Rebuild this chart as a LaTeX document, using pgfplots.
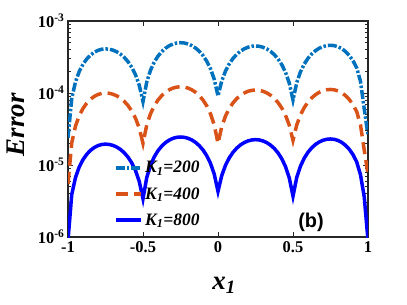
\documentclass[border=0pt]{standalone}
\usepackage{fontspec}
\setmainfont{Liberation Serif}
\newfontfamily\arialb{Liberation Sans}[BoldFont={* Bold}]
\usepackage{pgfplots}
\usepackage{pgfplotstable}
\pgfplotsset{compat=1.18}
\definecolor{mblue}{rgb}{0,0.447,0.741}
\definecolor{morange}{rgb}{0.851,0.325,0.098}
\definecolor{axgray}{rgb}{0.15,0.15,0.15}

\pgfplotstableread{
x y
-1 2.4e-5
-0.975 8.44e-5
-0.95 1.433e-4
-0.925 1.992e-4
-0.9 2.509e-4
-0.875 2.969e-4
-0.85 3.363e-4
-0.825 3.679e-4
-0.8 3.911e-4
-0.775 4.053e-4
-0.75 4.1e-4
-0.725 4.059e-4
-0.7 3.937e-4
-0.675 3.736e-4
-0.65 3.462e-4
-0.625 3.122e-4
-0.6 2.723e-4
-0.575 2.276e-4
-0.55 1.792e-4
-0.525 1.282e-4
-0.5 7.6e-5
-0.475 1.423e-4
-0.45 2.070e-4
-0.425 2.685e-4
-0.4 3.252e-4
-0.375 3.758e-4
-0.35 4.190e-4
-0.325 4.538e-4
-0.3 4.793e-4
-0.275 4.948e-4
-0.25 5.0e-4
-0.225 4.950e-4
-0.2 4.800e-4
-0.175 4.554e-4
-0.15 4.219e-4
-0.125 3.802e-4
-0.1 3.314e-4
-0.075 2.767e-4
-0.05 2.174e-4
-0.025 1.550e-4
0 9.1e-5
0.025 1.471e-4
0.05 2.019e-4
0.075 2.540e-4
0.1 3.020e-4
0.125 3.449e-4
0.15 3.814e-4
0.175 4.109e-4
0.2 4.324e-4
0.225 4.456e-4
0.25 4.5e-4
0.275 4.454e-4
0.3 4.319e-4
0.325 4.097e-4
0.35 3.793e-4
0.375 3.416e-4
0.4 2.975e-4
0.425 2.480e-4
0.45 1.943e-4
0.475 1.379e-4
0.5 8.0e-5
0.525 1.394e-4
0.55 1.974e-4
0.575 2.525e-4
0.6 3.034e-4
0.625 3.487e-4
0.65 3.874e-4
0.675 4.186e-4
0.7 4.414e-4
0.725 4.553e-4
0.75 4.6e-4
0.775 4.547e-4
0.8 4.388e-4
0.825 4.127e-4
0.85 3.771e-4
0.875 3.329e-4
0.9 2.811e-4
0.925 2.230e-4
0.95 1.450e-4
0.975 6.0e-5
1 2.6e-5
}\kA

\pgfplotstableread{
x y
-1 0.55e-5
-0.975 2.028e-5
-0.95 3.470e-5
-0.925 4.840e-5
-0.9 6.105e-5
-0.875 7.232e-5
-0.85 8.195e-5
-0.825 8.970e-5
-0.8 9.538e-5
-0.775 9.884e-5
-0.75 10.0e-5
-0.725 9.902e-5
-0.7 9.609e-5
-0.675 9.128e-5
-0.65 8.472e-5
-0.625 7.657e-5
-0.6 6.702e-5
-0.575 5.632e-5
-0.55 4.472e-5
-0.525 3.251e-5
-0.5 2.0e-5
-0.475 3.595e-5
-0.45 5.152e-5
-0.425 6.631e-5
-0.4 7.996e-5
-0.375 9.212e-5
-0.35 10.252e-5
-0.325 11.088e-5
-0.3 11.701e-5
-0.275 12.075e-5
-0.25 12.2e-5
-0.225 12.075e-5
-0.2 11.701e-5
-0.175 11.088e-5
-0.15 10.252e-5
-0.125 9.212e-5
-0.1 7.996e-5
-0.075 6.631e-5
-0.05 5.152e-5
-0.025 3.595e-5
0 2.0e-5
0.025 3.408e-5
0.05 4.781e-5
0.075 6.086e-5
0.1 7.290e-5
0.125 8.364e-5
0.15 9.281e-5
0.175 10.019e-5
0.2 10.560e-5
0.225 10.889e-5
0.25 11.0e-5
0.275 10.892e-5
0.3 10.570e-5
0.325 10.041e-5
0.35 9.319e-5
0.375 8.422e-5
0.4 7.373e-5
0.425 6.195e-5
0.45 4.919e-5
0.475 3.576e-5
0.5 2.2e-5
0.525 3.608e-5
0.55 4.981e-5
0.575 6.286e-5
0.6 7.490e-5
0.625 8.564e-5
0.65 9.481e-5
0.675 10.219e-5
0.7 10.760e-5
0.725 11.089e-5
0.75 11.2e-5
0.775 11.071e-5
0.8 10.689e-5
0.825 10.061e-5
0.85 9.204e-5
0.875 8.139e-5
0.9 6.893e-5
0.925 5.494e-5
0.95 3.600e-5
0.975 1.600e-5
1 0.75e-5
}\kB

\pgfplotstableread{
x y
-1 0.9e-6
-0.975 3.893e-6
-0.95 6.717e-6
-0.925 9.399e-6
-0.9 11.874e-6
-0.875 14.081e-6
-0.85 15.967e-6
-0.825 17.484e-6
-0.8 18.595e-6
-0.775 19.272e-6
-0.75 19.5e-6
-0.725 19.302e-6
-0.7 18.713e-6
-0.675 17.745e-6
-0.65 16.425e-6
-0.625 14.784e-6
-0.6 12.864e-6
-0.575 10.709e-6
-0.55 8.375e-6
-0.525 5.918e-6
-0.5 3.4e-6
-0.475 6.700e-6
-0.45 9.920e-6
-0.425 12.979e-6
-0.4 15.803e-6
-0.375 18.320e-6
-0.35 20.470e-6
-0.325 22.200e-6
-0.3 23.468e-6
-0.275 24.240e-6
-0.25 24.5e-6
-0.225 24.252e-6
-0.2 23.512e-6
-0.175 22.298e-6
-0.15 20.642e-6
-0.125 18.583e-6
-0.1 16.174e-6
-0.075 13.471e-6
-0.05 10.542e-6
-0.025 7.459e-6
0 4.3e-6
0.025 7.146e-6
0.05 9.924e-6
0.075 12.563e-6
0.1 14.998e-6
0.125 17.169e-6
0.15 19.024e-6
0.175 20.516e-6
0.2 21.610e-6
0.225 22.276e-6
0.25 22.5e-6
0.275 22.269e-6
0.3 21.581e-6
0.325 20.451e-6
0.35 18.909e-6
0.375 16.993e-6
0.4 14.751e-6
0.425 12.235e-6
0.45 9.509e-6
0.475 6.640e-6
0.5 3.7e-6
0.525 6.719e-6
0.55 9.664e-6
0.575 12.462e-6
0.6 15.045e-6
0.625 17.347e-6
0.65 19.314e-6
0.675 20.896e-6
0.7 22.056e-6
0.725 22.763e-6
0.75 23.0e-6
0.775 22.729e-6
0.8 21.924e-6
0.825 20.602e-6
0.85 18.798e-6
0.875 16.556e-6
0.9 13.932e-6
0.925 10.988e-6
0.95 7.3e-6
0.975 3.6e-6
1 0.9e-6
}\kC

\begin{document}
\begin{tikzpicture}
\useasboundingbox (0,0) rectangle (407bp,305bp);
\begin{semilogyaxis}[
  at={(68bp,68bp)}, anchor=south west,
  scale only axis, width=300bp, height=216bp,
  xmin=-1, xmax=1, ymin=1e-6, ymax=1e-3,
  xtick={-1,-0.5,0,0.5,1},
  xticklabels={\textbf{-1},\textbf{-0.5},\textbf{0},\textbf{0.5},\textbf{1}},
  ytick={1e-6,1e-5,1e-4,1e-3},
  yticklabels={\textbf{10\textsuperscript{-6}},\textbf{10\textsuperscript{-5}},\textbf{10\textsuperscript{-4}},\textbf{10\textsuperscript{-3}}},
  tick label style={font=\fontsize{16.5}{19}\selectfont},
  xticklabel style={yshift=-1bp},
  tick align=inside,
  major tick length=5bp, minor tick length=3bp,
  every tick/.style={axgray, line width=0.8pt},
  axis line style={axgray, line width=1.3pt},
  xlabel={\textbf{\textit{x\textsubscript{1}}}},
  ylabel={\textbf{\textit{Error}}},
  label style={font=\fontsize{27}{30}\selectfont},
  xlabel style={at={(axis description cs:0.52,-0.245)}, anchor=base},
  ylabel style={at={(axis description cs:-0.145,0.52)}, anchor=base},
  legend style={draw=none, fill=none, at={(0.15,0.365)}, anchor=north west,
    font=\fontsize{17.5}{19}\selectfont\bfseries\itshape, row sep=9bp,
    inner sep=1pt},
  legend cell align=left,
  legend image code/.code={\draw[#1] (0cm,0cm) -- (0.9cm,0cm);},
  clip=true,
]
\addplot[mblue, line width=3.5bp, dash pattern=on 9bp off 2bp on 2.5bp off 2bp] table[x=x,y=y]{\kA};
\addlegendentry{K\textsubscript{1}=200}
\addplot[morange, line width=3.5bp, dash pattern=on 12bp off 6bp] table[x=x,y=y]{\kB};
\addlegendentry{K\textsubscript{1}=400}
\addplot[blue, line width=3.5bp] table[x=x,y=y]{\kC};
\addlegendentry{K\textsubscript{1}=800}
\node[font=\fontsize{20}{22}\selectfont\arialb\bfseries] at (rel axis cs:0.81,0.07) {(b)};
\end{semilogyaxis}
\end{tikzpicture}
\end{document}
